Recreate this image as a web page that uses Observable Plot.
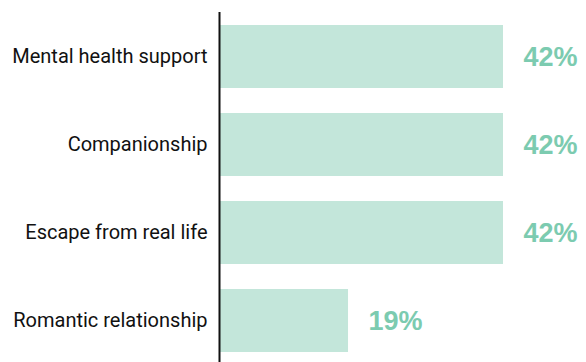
<!DOCTYPE html>
<html><head><meta charset="utf-8">
<script src="https://cdn.jsdelivr.net/npm/d3@7"></script>
<script src="https://cdn.jsdelivr.net/npm/@observablehq/plot@0.6"></script>
<style>body{margin:0;background:#fff;} svg{display:block;}</style>
</head><body><div id="chart"></div>
<script>
const categories = ["Mental health support", "Companionship", "Escape from real life", "Romantic relationship"];
const values = [42, 42, 42, 19];
const data = categories.map((c, i) => ({category: c, value: values[i]}));

const chart = Plot.plot({
  width: 586,
  height: 362,
  marginLeft: 220,
  marginRight: 83,
  marginTop: 12,
  marginBottom: 0,
  style: {fontFamily: "Roboto", background: "#fff"},
  x: {domain: [0, 42], axis: null},
  y: {domain: categories, range: [16, 362], paddingInner: 0.28, paddingOuter: 0.084, label: null},
  marks: [
    Plot.barX(data, {x: "value", y: "category", fill: "#c3e6da"}),
    Plot.text(data, {x: "value", y: "category", text: d => d.value + "%", textAnchor: "start", dx: 20, fill: "#7ccbb0", fontSize: 27, fontWeight: "bold", fontFamily: "Liberation Sans"}),
    Plot.axisY({tickSize: 0, tickPadding: 13, fontSize: 20, fill: "#111", label: null}),
    Plot.ruleX([0], {stroke: "#111", strokeWidth: 2, dx: -1})
  ]
});
document.getElementById("chart").appendChild(chart);
</script></body></html>
